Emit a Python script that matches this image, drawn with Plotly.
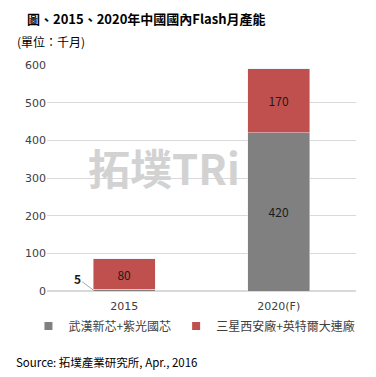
import plotly.graph_objects as go

categories = ["2015", "2020(F)"]
series_names = ["武漢新芯+紫光國芯", "三星西安廠+英特爾大連廠"]
series_colors = ["#808080", "#C0504D"]
gray_values = [5, 420]
red_values = [80, 170]
y_ticks = [0, 100, 200, 300, 400, 500, 600]

FONT = "Noto Sans CJK TC"

fig = go.Figure()
for vals, name, color, hide_small in [(gray_values, series_names[0], series_colors[0], True),
                                      (red_values, series_names[1], series_colors[1], False)]:
    fig.add_trace(go.Bar(
        x=categories, y=vals, name=name,
        marker=dict(color=color), showlegend=False,
        text=["" if (hide_small and v < 20) else str(v) for v in vals],
        textposition="inside", insidetextanchor="middle", textangle=0,
        textfont=dict(color="#1a1a1a", size=12, family=FONT),
        width=0.4,
    ))
# legend entries with small square symbols
for name, color in zip(series_names, series_colors):
    fig.add_trace(go.Scatter(
        x=[None], y=[None], mode="markers", name=name,
        marker=dict(symbol="square", size=8, color=color),
    ))

# watermark
fig.add_annotation(
    xref="paper", yref="paper", x=(164 - 47) / 309, y=(291 - 166) / 226,
    xanchor="center", yanchor="middle",
    text="<b>拓墣TRi</b>", showarrow=False,
    font=dict(size=42, color="#d2d2d2", family=FONT),
)

# small value label with leader line (x = index of first category)
fig.add_annotation(
    x=categories.index("2015"), y=gray_values[0] / 2, xref="x", yref="y",
    xshift=-31, text="<b>5</b>", showarrow=True, arrowhead=0,
    arrowwidth=1, arrowcolor="#a6a6a6", ax=-16, ay=-12,
    font=dict(size=12, color="#1a1a1a", family=FONT),
)

PLOT_H = 226
def py(p):
    return (291 - p) / PLOT_H

fig.update_layout(
    width=368, height=369,
    margin=dict(l=39, r=20, t=57, b=86),
    barmode="stack",
    paper_bgcolor="white", plot_bgcolor="white",
    showlegend=True,
    legend=dict(orientation="h", x=-0.06, xanchor="left", y=py(326), yanchor="middle",
                font=dict(size=12, color="#404040", family=FONT),
                traceorder="normal", itemwidth=30),
    font=dict(family=FONT, color="#404040"),
    xaxis=dict(type="category", showgrid=False, showline=False,
               ticks="outside", ticklen=5, tickcolor="rgba(0,0,0,0)",
               tickfont=dict(size=11, color="#404040", family="DejaVu Sans")),
    yaxis=dict(range=[0, 600], tickvals=y_ticks, showgrid=True,
               gridcolor="#d9d9d9", zerolinecolor="#d9d9d9",
               tickfont=dict(size=11, color="#404040", family="DejaVu Sans")),
)

fig.add_annotation(
    xref="paper", yref="paper", x=-47 / 309, y=py(18),
    text="<b>圖、2015、2020年中國國內Flash月產能</b>", showarrow=False,
    xanchor="left", yanchor="middle", xshift=25,
    font=dict(size=13, color="#000000", family=FONT),
)
fig.add_annotation(
    xref="paper", yref="paper", x=-47 / 309, y=py(42),
    text="(單位：千月)", showarrow=False,
    xanchor="left", yanchor="middle", xshift=15,
    font=dict(size=12, color="#000000", family=FONT),
)
fig.add_annotation(
    xref="paper", yref="paper", x=-47 / 309, y=py(362),
    text="Source: 拓墣產業研究所, Apr., 2016", showarrow=False,
    xanchor="left", yanchor="middle", xshift=14,
    font=dict(size=11.5, color="#000000", family=FONT),
)

fig.write_html("out.html")
